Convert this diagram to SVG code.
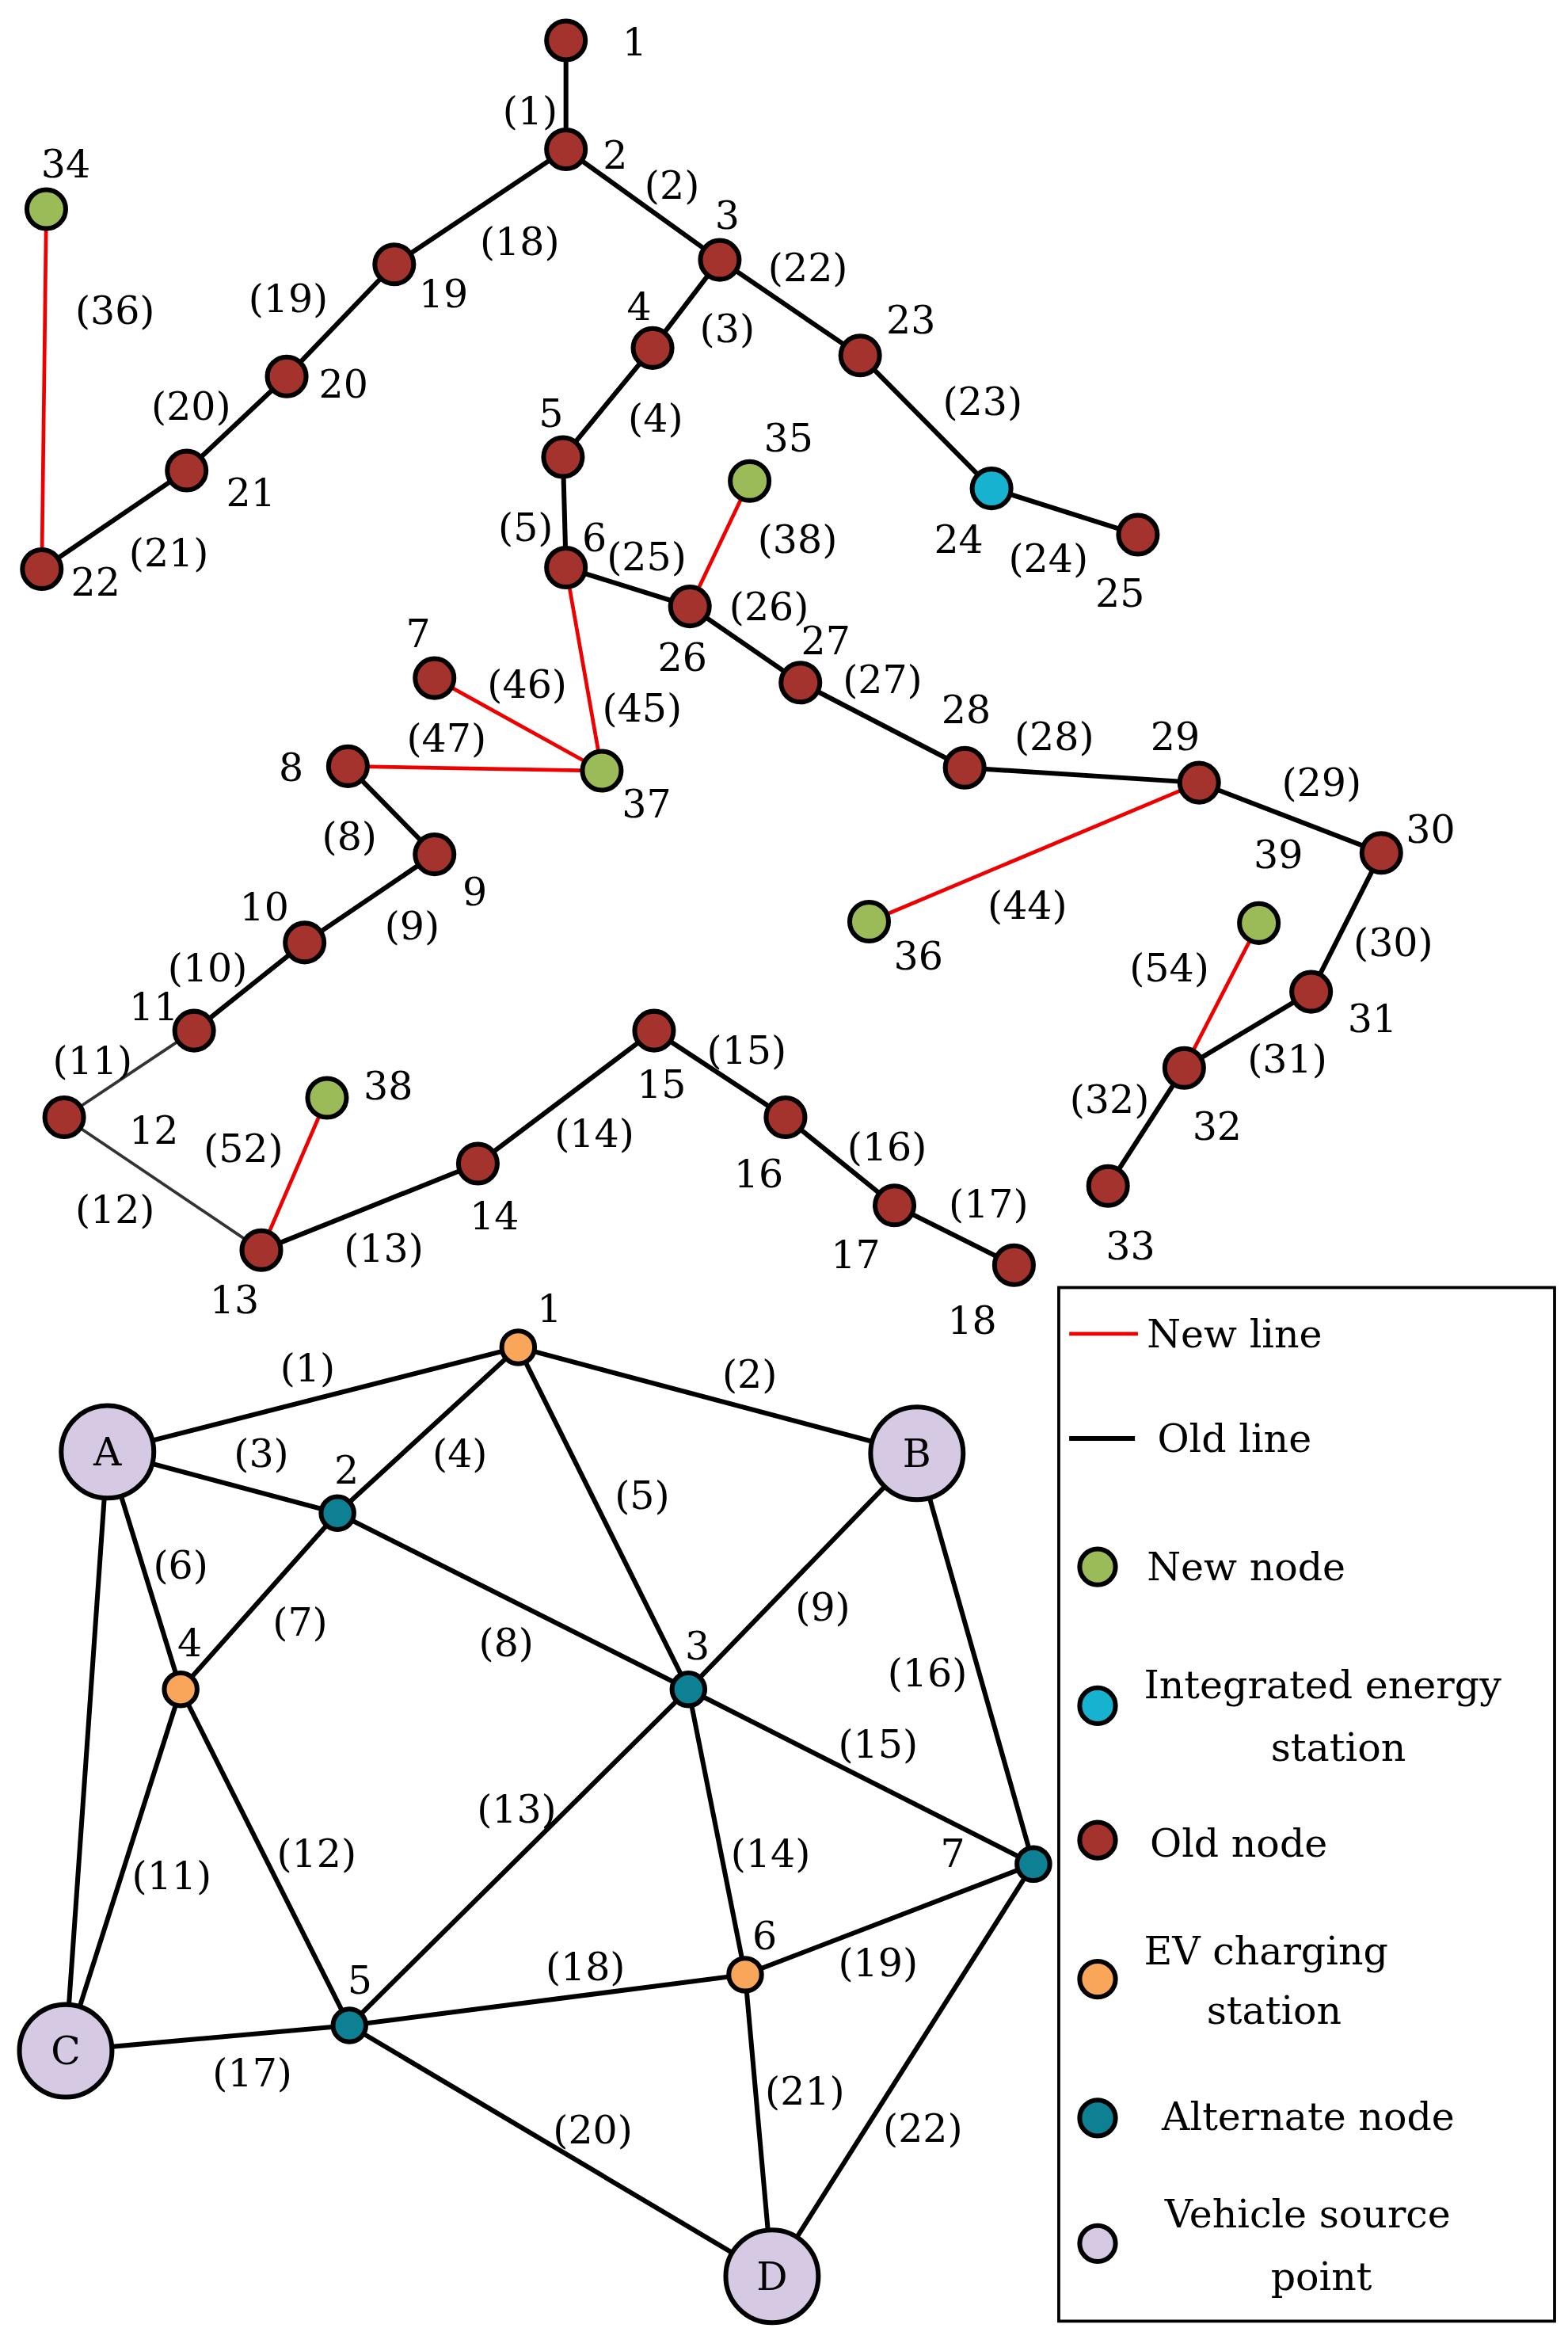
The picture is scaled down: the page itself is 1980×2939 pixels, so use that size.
<svg xmlns="http://www.w3.org/2000/svg" width="1980" height="2939" viewBox="0 0 1980 2939">
<style>
text{font-family:"DejaVu Serif","Liberation Serif",serif;font-size:26px;fill:#000;dominant-baseline:central;text-anchor:middle}
.lg{text-anchor:start}
.o{stroke:#000;stroke-width:3.2;fill:none}
.n{stroke:#e00;stroke-width:2.5;fill:none}
.t{stroke:#333;stroke-width:2;fill:none}
circle{stroke:#000;stroke-width:3.2}
.old{fill:#a5332d}.new{fill:#9bbb59}.ies{fill:#17b2d0}.ev{fill:#f9a65a}.alt{fill:#0e8093}.vs{fill:#d5c9e3}
</style>
<rect width="1980" height="2939" fill="#fff"/>
<g transform="scale(1.8857)">
<g id="connectors">
<path class="o" d="M379,27L379,100M379,100L482,174M379,100L264,177L192,252L125,315L28,381M482,174L437,233L377,306L379,380M482,174L576,238L664,327L762,358M379,380L462,406L536,457L646,514L803,524L925,571L878,664L793,715L742,794M233,513L291,572L204,631L130,690M175,837L320,779L438,690L526,748L599,807L679,847"/>
<path class="t" d="M130,690L43,748L175,837"/>
<path class="n" d="M31,140L28,381M502,322L462,406M379,380L403,516M291,454L403,516M233,513L403,516M803,524L582,617M219,735L175,837M843,618L793,715"/>
<path class="o" d="M72,972L347,902L614,973L692,1248L517,1524L234,1356L44,1373L72,972L226,1013L461,1131L614,973M226,1013L347,902L461,1131L499,1322L517,1524M72,972L121,1131L226,1013M121,1131L44,1373M121,1131L234,1356L461,1131L692,1248L499,1322L234,1356"/>
</g>
<g id="edge-labels">
<text x="355" y="74">(1)</text><text x="450" y="124">(2)</text><text x="348" y="162">(18)</text><text x="193" y="200">(19)</text><text x="128" y="272">(20)</text><text x="113" y="370">(21)</text><text x="77" y="208">(36)</text><text x="487" y="220">(3)</text><text x="541" y="179">(22)</text><text x="439" y="280">(4)</text><text x="352" y="353">(5)</text><text x="658" y="269">(23)</text><text x="702" y="374">(24)</text><text x="433" y="373">(25)</text><text x="534" y="361">(38)</text><text x="515" y="406">(26)</text><text x="591" y="455">(27)</text><text x="706" y="493">(28)</text><text x="885" y="524">(29)</text><text x="688" y="606">(44)</text><text x="430" y="474">(45)</text><text x="353" y="458">(46)</text><text x="299" y="494">(47)</text><text x="234" y="560">(8)</text><text x="276" y="620">(9)</text><text x="139" y="648">(10)</text><text x="62" y="710">(11)</text><text x="77" y="810">(12)</text><text x="163" y="769">(52)</text><text x="257" y="836">(13)</text><text x="398" y="759">(14)</text><text x="500" y="703">(15)</text><text x="594" y="768">(16)</text><text x="662" y="806">(17)</text><text x="933" y="631">(30)</text><text x="862" y="709">(31)</text><text x="743" y="736">(32)</text><text x="783" y="648">(54)</text>
<text x="206" y="916">(1)</text><text x="502" y="920">(2)</text><text x="175" y="973">(3)</text><text x="308" y="973">(4)</text><text x="430" y="1001">(5)</text><text x="121" y="1048">(6)</text><text x="201" y="1086">(7)</text><text x="339" y="1100">(8)</text><text x="551" y="1076">(9)</text><text x="621" y="1120">(16)</text><text x="588" y="1168">(15)</text><text x="346" y="1211">(13)</text><text x="516" y="1241">(14)</text><text x="115" y="1256">(11)</text><text x="212" y="1241">(12)</text><text x="169" y="1388">(17)</text><text x="392" y="1317">(18)</text><text x="588" y="1314">(19)</text><text x="397" y="1426">(20)</text><text x="539" y="1400">(21)</text><text x="618" y="1425">(22)</text>
</g>
<g id="n1"><circle class="old" cx="379" cy="27" r="13"/><text x="425" y="28">1</text></g>
<g id="n2"><circle class="old" cx="379" cy="100" r="13"/><text x="412" y="104">2</text></g>
<g id="n3"><circle class="old" cx="482" cy="174" r="13"/><text x="487" y="144">3</text></g>
<g id="n4"><circle class="old" cx="437" cy="233" r="13"/><text x="428" y="205">4</text></g>
<g id="n5"><circle class="old" cx="377" cy="306" r="13"/><text x="369" y="277">5</text></g>
<g id="n6"><circle class="old" cx="379" cy="380" r="13"/><text x="398" y="360">6</text></g>
<g id="n7"><circle class="old" cx="291" cy="454" r="13"/><text x="280" y="424">7</text></g>
<g id="n8"><circle class="old" cx="233" cy="513" r="13"/><text x="195" y="514">8</text></g>
<g id="n9"><circle class="old" cx="291" cy="572" r="13"/><text x="318" y="597">9</text></g>
<g id="n10"><circle class="old" cx="204" cy="631" r="13"/><text x="177" y="607">10</text></g>
<g id="n11"><circle class="old" cx="130" cy="690" r="13"/><text x="103" y="674">11</text></g>
<g id="n12"><circle class="old" cx="43" cy="748" r="13"/><text x="103" y="757">12</text></g>
<g id="n13"><circle class="old" cx="175" cy="837" r="13"/><text x="157" y="870">13</text></g>
<g id="n14"><circle class="old" cx="320" cy="779" r="13"/><text x="331" y="814">14</text></g>
<g id="n15"><circle class="old" cx="438" cy="690" r="13"/><text x="443" y="726">15</text></g>
<g id="n16"><circle class="old" cx="526" cy="748" r="13"/><text x="508" y="786">16</text></g>
<g id="n17"><circle class="old" cx="599" cy="807" r="13"/><text x="573" y="840">17</text></g>
<g id="n18"><circle class="old" cx="679" cy="847" r="13"/><text x="651" y="884">18</text></g>
<g id="n19"><circle class="old" cx="264" cy="177" r="13"/><text x="297" y="197">19</text></g>
<g id="n20"><circle class="old" cx="192" cy="252" r="13"/><text x="230" y="257">20</text></g>
<g id="n21"><circle class="old" cx="125" cy="315" r="13"/><text x="168" y="330">21</text></g>
<g id="n22"><circle class="old" cx="28" cy="381" r="13"/><text x="64" y="390">22</text></g>
<g id="n23"><circle class="old" cx="576" cy="238" r="13"/><text x="610" y="214">23</text></g>
<g id="n24"><circle class="ies" cx="664" cy="327" r="13"/><text x="642" y="361">24</text></g>
<g id="n25"><circle class="old" cx="762" cy="358" r="13"/><text x="750" y="397">25</text></g>
<g id="n26"><circle class="old" cx="462" cy="406" r="13"/><text x="457" y="440">26</text></g>
<g id="n27"><circle class="old" cx="536" cy="457" r="13"/><text x="553" y="429">27</text></g>
<g id="n28"><circle class="old" cx="646" cy="514" r="13"/><text x="647" y="475">28</text></g>
<g id="n29"><circle class="old" cx="803" cy="524" r="13"/><text x="787" y="493">29</text></g>
<g id="n30"><circle class="old" cx="925" cy="571" r="13"/><text x="958" y="555">30</text></g>
<g id="n31"><circle class="old" cx="878" cy="664" r="13"/><text x="919" y="682">31</text></g>
<g id="n32"><circle class="old" cx="793" cy="715" r="13"/><text x="815" y="754">32</text></g>
<g id="n33"><circle class="old" cx="742" cy="794" r="13"/><text x="757" y="834">33</text></g>
<g id="n34"><circle class="new" cx="31" cy="140" r="13"/><text x="44" y="110">34</text></g>
<g id="n35"><circle class="new" cx="502" cy="322" r="13"/><text x="528" y="293">35</text></g>
<g id="n36"><circle class="new" cx="582" cy="617" r="13"/><text x="615" y="640">36</text></g>
<g id="n37"><circle class="new" cx="403" cy="516" r="13"/><text x="433" y="538">37</text></g>
<g id="n38"><circle class="new" cx="219" cy="735" r="13"/><text x="260" y="727">38</text></g>
<g id="n39"><circle class="new" cx="843" cy="618" r="13"/><text x="856" y="572">39</text></g>
<g id="tA"><circle class="vs" cx="72" cy="972" r="31"/><text x="72" y="972">A</text></g>
<g id="tB"><circle class="vs" cx="614" cy="973" r="31"/><text x="614" y="973">B</text></g>
<g id="tC"><circle class="vs" cx="44" cy="1373" r="31"/><text x="44" y="1373">C</text></g>
<g id="tD"><circle class="vs" cx="517" cy="1524" r="31"/><text x="517" y="1524">D</text></g>
<g id="t1"><circle class="ev" cx="347" cy="902" r="11"/><text x="368" y="876">1</text></g>
<g id="t2"><circle class="alt" cx="226" cy="1013" r="11"/><text x="232" y="984">2</text></g>
<g id="t3"><circle class="alt" cx="461" cy="1131" r="11"/><text x="467" y="1102">3</text></g>
<g id="t4"><circle class="ev" cx="121" cy="1131" r="11"/><text x="127" y="1100">4</text></g>
<g id="t5"><circle class="alt" cx="234" cy="1356" r="11"/><text x="241" y="1326">5</text></g>
<g id="t6"><circle class="ev" cx="499" cy="1322" r="11"/><text x="512" y="1296">6</text></g>
<g id="t7"><circle class="alt" cx="692" cy="1248" r="11"/><text x="638" y="1241">7</text></g>
<g id="legend">
<rect x="709" y="862" width="332" height="692" fill="none" stroke="#000" stroke-width="2"/>
<line class="n" x1="716" y1="893" x2="762" y2="893"/><text class="lg" x="768" y="893">New line</text>
<line class="o" x1="716" y1="963" x2="760" y2="963"/><text class="lg" x="775" y="963">Old line</text>
<circle class="new" cx="735" cy="1049" r="12"/><text class="lg" x="768" y="1049">New node</text>
<circle class="ies" cx="735" cy="1142" r="12"/><text class="lg" x="766" y="1128">Integrated energy</text><text class="lg" x="851" y="1170">station</text>
<circle class="old" cx="735" cy="1232" r="12"/><text class="lg" x="770" y="1234">Old node</text>
<circle class="ev" cx="735" cy="1325" r="12"/><text class="lg" x="766" y="1306">EV charging</text><text class="lg" x="808" y="1346">station</text>
<circle class="alt" cx="735" cy="1418" r="12"/><text class="lg" x="778" y="1417">Alternate node</text>
<circle class="vs" cx="735" cy="1502" r="12"/><text class="lg" x="780" y="1482">Vehicle source</text><text class="lg" x="851" y="1524">point</text>
</g>
</g>
</svg>
